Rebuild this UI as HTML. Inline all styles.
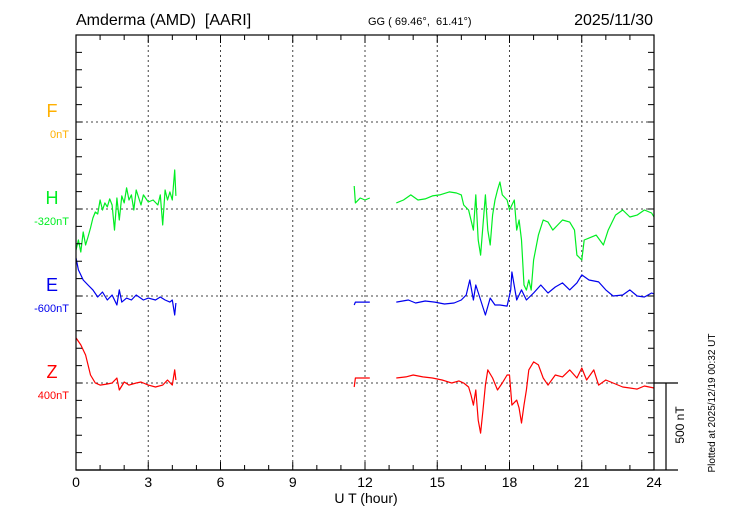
<!DOCTYPE html>
<html><head><meta charset="utf-8"><style>
html,body{margin:0;padding:0;background:#fff;width:730px;height:520px;overflow:hidden}
svg{display:block;font-family:"Liberation Sans",sans-serif}
text{white-space:pre}
</style></head><body>
<svg id="chart" width="730" height="520" viewBox="0 0 730 520" xmlns="http://www.w3.org/2000/svg" xml:space="preserve">
<text x="76" y="25" font-size="16">Amderma (AMD)  [AARI]</text>
<text x="368" y="25" font-size="11">GG ( 69.46°,  61.41°)</text>
<text x="653" y="25" font-size="16" text-anchor="end">2025/11/30</text>
<text x="366" y="503" font-size="14" text-anchor="middle">U T (hour)</text>
<text transform="translate(715,403) rotate(-90)" font-size="10" text-anchor="middle">Plotted at 2025/12/19 00:32 UT</text>
<text transform="translate(684,425) rotate(-90)" font-size="12" text-anchor="middle">500 nT</text>
<g id="grid"></g><g id="series"></g><g id="axes"></g>
</svg>
<script>
const hTimes=[0,0.1,0.2,0.3,0.4,0.5,0.6,0.7,0.8,0.9,1.0,1.1,1.2,1.3,1.4,1.5,1.6,1.7,1.8,1.9,2.0,2.1,2.2,2.3,2.4,2.5,2.7,2.8,3.0,3.2,3.4,3.5,3.6,3.7,3.8,3.9,4.0,4.1,4.15,null,11.55,11.6,11.8,12.0,12.2,null,13.3,13.6,13.9,14.2,14.5,14.8,15.1,15.5,15.8,16.0,16.1,16.3,16.4,16.5,16.6,16.7,16.8,16.9,17.0,17.1,17.2,17.3,17.4,17.5,17.6,17.7,17.9,18.0,18.1,18.2,18.3,18.4,18.5,18.6,18.7,18.8,18.9,19.0,19.2,19.4,19.6,19.8,20.0,20.2,20.5,20.7,20.8,21.0,21.1,21.3,21.6,21.9,22.1,22.4,22.7,23.0,23.3,23.6,23.9,24];
const hValues=[-236,-178,-247,-132,-207,-161,-109,-52,-17,-29,52,-6,35,12,58,23,-121,63,-63,75,35,121,52,81,-6,109,23,81,40,52,23,81,-92,109,52,98,52,224,75,null,132,35,63,52,63,null,35,52,81,52,58,75,81,98,92,81,23,-6,-63,-121,81,-178,-265,-92,81,-121,-207,-35,52,109,155,81,52,-6,23,52,-121,-63,-178,-437,-466,-408,-466,-293,-150,-63,-75,-121,-92,-63,-75,-121,-265,-293,-178,-167,-150,-207,-121,-35,-6,-46,-35,-6,-23,-46];
const eTimes=[0,0.1,0.2,0.3,0.5,0.7,0.9,1.1,1.3,1.5,1.7,1.8,1.9,2.1,2.3,2.5,2.8,3.0,3.3,3.5,3.7,3.9,4.0,4.1,4.15,null,11.55,11.6,12.2,null,13.3,13.8,14.1,14.5,14.9,15.3,15.7,16.0,16.2,16.35,16.5,16.6,16.8,17.0,17.2,17.4,17.6,17.9,18.05,18.1,18.3,18.5,18.7,19.0,19.3,19.6,19.9,20.2,20.5,20.8,21.0,21.3,21.7,22.0,22.3,22.7,23.0,23.3,23.6,23.9,24];
const eValues=[219,150,121,92,63,35,-6,23,-23,6,-52,35,-35,-12,-23,6,-23,-12,-23,-6,-23,-35,-23,-109,-40,null,-52,-35,-35,null,-35,-23,-40,-29,-35,-46,-40,-23,6,92,-23,63,-23,-109,-12,-52,-52,-58,35,138,-23,35,-23,17,63,17,52,75,35,75,121,92,81,35,0,6,35,0,-6,17,12];
const zTimes=[0,0.2,0.4,0.6,0.8,1.0,1.3,1.5,1.7,1.8,2.0,2.2,2.5,2.7,3.0,3.3,3.6,3.8,4.0,4.1,4.15,null,11.55,11.6,12.2,null,13.3,13.7,14.0,14.4,14.8,15.2,15.6,15.9,16.1,16.3,16.4,16.5,16.6,16.7,16.8,16.9,17.0,17.1,17.3,17.5,17.7,17.9,18.0,18.1,18.3,18.4,18.5,18.6,18.7,18.8,19.0,19.2,19.4,19.6,19.9,20.2,20.5,20.8,21.0,21.2,21.5,21.7,22.0,22.3,22.7,23.0,23.3,23.6,24];
const zValues=[259,219,161,46,0,-12,-6,0,29,-40,6,-12,0,6,-12,-23,-12,17,-12,75,17,null,-23,29,29,null,29,35,46,35,29,17,0,12,0,-23,-69,-127,-40,-213,-288,-155,-12,75,29,-40,0,46,46,-127,-98,-144,-230,-127,-40,75,121,104,29,-12,46,35,75,29,86,17,75,-12,17,0,-23,-29,-35,-17,-29];
const xTickLabels=["0","3","6","9","12","15","18","21","24"];
const components=["F","H","E","Z"];
const baseLabels=["0nT","-320nT","-600nT","400nT"];

const NS="http://www.w3.org/2000/svg";
const X0=76,X1=654,Y0=35,Y1=470,DY=87;
const xs=h=>X0+h*(X1-X0)/24;
const baseY=i=>122+i*DY;
const ys=(i,v)=>baseY(i)-v*DY/500;
function mk(parent,tag,attrs){const e=document.createElementNS(NS,tag);for(const k in attrs)e.setAttribute(k,attrs[k]);parent.appendChild(e);return e;}
const grid=document.getElementById('grid'),axes=document.getElementById('axes'),ser=document.getElementById('series');
for(let h=3;h<24;h+=3){const l=mk(grid,'line',{x1:xs(h),x2:xs(h),y1:Y0,y2:Y1,stroke:'#444','stroke-width':1,'stroke-dasharray':'2,3'});

}
const colors=["#ffb000","#00ee22","#0000ee","#ff0000"];
components.forEach((c,i)=>{
 const l=mk(grid,'line',{x1:X0,x2:X1,y1:baseY(i),y2:baseY(i),stroke:'#444','stroke-width':1,'stroke-dasharray':'2,3'});
 
 
 const t=mk(axes,'text',{x:52,y:baseY(i)-5,'font-size':18,fill:colors[i],'text-anchor':'middle'});t.textContent=c;
 
 
 const t2=mk(axes,'text',{x:69,y:baseY(i)+16,'font-size':11,fill:colors[i],'text-anchor':'end'});t2.textContent=baseLabels[i];
 
 
});
const fr=mk(axes,'rect',{x:X0,y:Y0,width:X1-X0,height:Y1-Y0,fill:'none',stroke:'#000','stroke-width':1.2});


let tk='';
for(let h=0;h<=24;h++){const len=h%3===0?8:5;tk+=`M${xs(h)},${Y0}v${len}M${xs(h)},${Y1}v${-len}`;}
for(let y=Y0+17.4;y<Y1-1;y+=17.4){tk+=`M${X0},${y}h6M${X1},${y}h-6`;}
const tp=mk(axes,'path',{d:tk,stroke:'#000','stroke-width':1,fill:'none'});


xTickLabels.forEach((s,k)=>{const t=mk(axes,'text',{x:xs(k*3),y:487,'font-size':14,'text-anchor':'middle'});t.textContent=s;
 
 });
const sb=mk(axes,'path',{d:`M${X0},${Y1}H678M${X1},${baseY(3)}H678M666,${baseY(3)}V${Y1}`,stroke:'#000','stroke-width':1.2,fill:'none'});


function draw(times,vals,i,name){let d='',pen=false;
 for(let k=0;k<times.length;k++){if(times[k]===null||vals[k]===null){pen=false;continue;}
  d+=(pen?'L':'M')+xs(times[k]).toFixed(1)+','+ys(i,vals[k]).toFixed(1);pen=true;}
 const p=mk(ser,'path',{d:d,stroke:colors[i],'stroke-width':1.2,fill:'none','stroke-linejoin':'round'});
 
 }
draw(hTimes,hValues,1,'h-series');
draw(eTimes,eValues,2,'e-series');
draw(zTimes,zValues,3,'z-series');
</script>
</body></html>
